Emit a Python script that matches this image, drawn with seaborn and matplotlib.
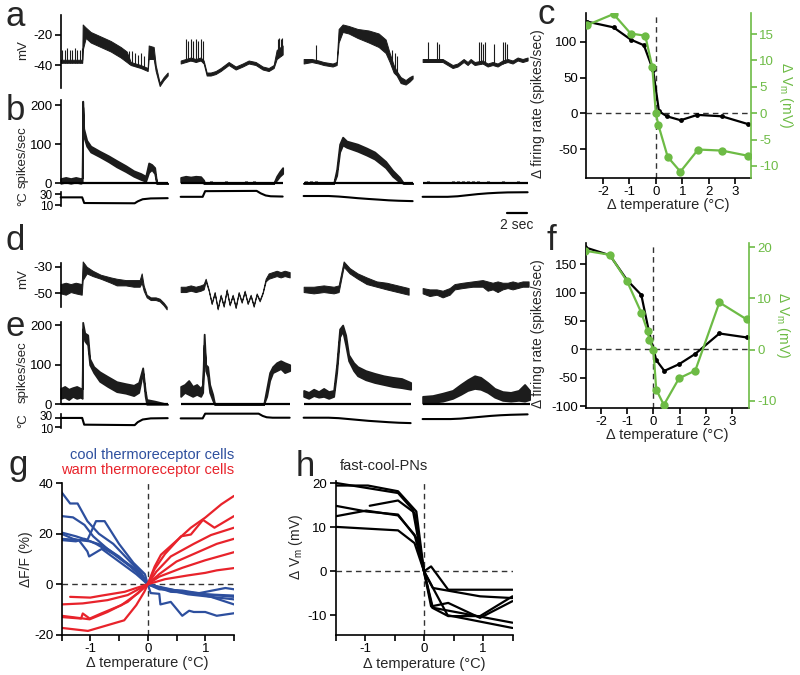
import numpy as np
import pandas as pd
import matplotlib
matplotlib.use("Agg")
import matplotlib.pyplot as plt
import matplotlib.transforms as mtrans
import seaborn as sns

# ---------------------------------------------------------------------------
# values
# ---------------------------------------------------------------------------
# trace rows (a, b, d, e): four stimulus segments, time (s) from segment start
SEG_START = [0.0, 12.0, 24.3, 36.2]

# a: membrane potential (mV), lower / upper edge of the drawn trace
A_T = [
    [0, 2.15, 2.2, 2.5, 3, 4, 5, 6, 6.6, 7, 8, 8.7, 8.8, 9.3, 9.5, 9.9, 10.3, 10.7],
    [0, 0.5, 1.0, 1.5, 2.0, 2.3, 2.6, 3.0, 3.5, 4.0, 4.8, 5.5, 6.2, 6.8, 7.5, 8.2, 8.8, 9.3, 9.6, 10.0, 10.2],
    [0, 0.8, 1.5, 2.0, 2.9, 3.3, 3.5, 3.9, 4.5, 5.4, 6.5, 7.5, 8.2, 8.6, 9.0, 9.3, 9.7, 10.2, 10.6, 10.9],
    [0, 1, 2, 2.5, 3, 3.5, 4.1, 4.5, 4.8, 5.2, 6.0, 6.5, 7.0, 7.5, 8.0, 8.5, 9.0, 9.5, 10.0, 10.5],
]
A_LO = [
    [-38.5, -38.5, -30, -22, -25, -28, -31, -35, -38, -40, -42, -44, -36, -36, -44, -54, -50, -47],
    [-39, -38, -37, -38, -37, -39, -47, -47, -46, -44, -40, -43, -41, -39, -40, -43, -44, -42, -36, -34, -33],
    [-39, -38, -39, -40, -41, -40, -25, -18, -19, -22, -25, -28, -32, -38, -45, -47, -52, -53, -51, -49],
    [-38, -38, -38, -40, -42, -41, -38, -40, -38, -40, -39, -41, -40, -41, -39, -38, -39, -37, -38, -37],
]
A_HI = [
    [-36.5, -36.5, -13, -15, -18, -21, -24, -28, -31, -38, -40, -42, -27, -28, -40, -52, -48, -45],
    [-37, -36, -35, -36, -35, -37, -45, -45, -44, -42, -38, -41, -39, -37, -38, -41, -42, -40, -30, -28, -27],
    [-36, -36, -37, -38, -39, -38, -16, -13, -14, -16, -17, -19, -23, -32, -40, -44, -48, -50, -48, -47],
    [-36, -36, -36, -38, -40, -39, -36, -38, -36, -38, -37, -39, -38, -39, -37, -36, -37, -35, -36, -35],
]
A_SPK_T = [
    [0.15, 0.4, 0.65, 0.9, 1.15, 1.4, 1.65, 1.9, 2.1, 6.8, 7.1, 7.4, 7.7, 8.0, 8.3],
    [0.5, 0.75, 1.0, 1.25, 1.5, 1.75, 2.0, 2.2, 9.7, 9.85, 10.0, 10.15],
    [1.25, 8.8, 9.1, 9.35],
    [0.5, 1.4, 1.6, 5.6, 5.8, 6.0, 6.2, 7.1, 8.0, 8.2, 8.4],
]
A_SPK_V = [
    [-30, -30, -29, -30, -30, -29, -30, -30, -29, -31, -31, -32, -33, -32, -34],
    [-23, -24, -23, -24, -23, -24, -23, -24, -23, -22, -23, -22],
    [-27, -30, -32, -34],
    [-25, -25, -26, -25, -25, -26, -25, -26, -25, -25, -26],
]

# b: firing rate (spikes/sec)
B_T = [
    [0, 0.5, 1.0, 1.5, 2.0, 2.15, 2.2, 2.3, 2.6, 3.0, 3.9, 4.8, 5.6, 6.5, 7.3, 8.0, 8.5, 8.8, 9.1, 9.4, 9.6, 10.7],
    [0, 0.5, 1.0, 1.5, 2.0, 2.3, 2.4, 9.3, 9.6, 9.9, 10.2],
    [0, 3.0, 3.3, 3.6, 3.9, 4.3, 5.4, 6.3, 7.1, 8.2, 8.9, 9.6, 10.0, 10.9],
    [0, 10.5],
]
B_LO = [
    [0, 3, 0, 3, 0, 2, 195, 120, 95, 80, 68, 55, 42, 30, 18, 10, 5, 28, 35, 25, 0, 0],
    [3, 6, 4, 7, 4, 0, 0, 0, 8, 18, 25],
    [0, 0, 20, 80, 98, 92, 82, 72, 62, 40, 18, 3, 0, 0],
    [0, 0],
]
B_HI = [
    [12, 15, 12, 15, 12, 14, 210, 140, 110, 95, 82, 70, 58, 45, 32, 25, 18, 52, 48, 40, 0, 0],
    [15, 18, 16, 18, 17, 8, 0, 0, 18, 30, 40],
    [0, 0, 35, 100, 118, 108, 100, 90, 80, 56, 33, 15, 0, 0],
    [0, 0],
]
B_BLIP_T = [[], [3.0, 4.5, 6.5, 7.3], [0.2, 0.7, 1.25], [0.5, 3.0, 3.5, 4.0, 4.5, 5.0, 5.5, 6.5, 8.0, 9.5]]

# a/b: bath temperature (deg C)
TAB_T = [
    [0, 2.15, 2.35, 7.4, 7.7, 8.2, 9.0, 10.7],
    [0, 2.2, 2.45, 7.6, 8.0, 8.5, 9.0, 10.2],
    [0, 2.5, 3.5, 4.5, 5.4, 6.5, 7.5, 8.5, 9.5, 10.9],
    [0, 2.5, 3.5, 4.5, 5.5, 6.5, 7.5, 8.5, 10.5],
]
TAB_C = [
    [24.5, 24.5, 14, 13.5, 17, 21, 22.5, 23],
    [25.5, 25.5, 36, 36.5, 32, 28, 26.5, 26],
    [27, 27, 26, 24.5, 23, 21.5, 20.3, 19, 18.2, 17.5],
    [25.5, 25.5, 26.5, 28.5, 30.5, 32, 33, 33.7, 34],
]

# d: membrane potential (mV)
D_T = [
    [0, 0.5, 1.0, 1.5, 2.1, 2.2, 2.6, 3.2, 4.0, 5.0, 5.6, 6.5, 7.3, 7.9, 8.1, 8.3, 8.6, 9.0, 9.5, 9.9, 10.3, 10.6],
    [0, 0.5, 1, 1.5, 2, 2.3, 2.5, 2.8, 3.1, 3.4, 3.7, 4.0, 4.3, 4.6, 4.9, 5.2, 5.5, 5.8, 6.1, 6.4, 6.7,
     7.0, 7.3, 7.6, 7.9, 8.2, 8.5, 8.8, 9.2, 9.6, 10.0, 10.4, 10.9],
    [0, 1, 2, 3, 3.5, 4.0, 4.6, 5.4, 6.3, 7.3, 8.3, 9.4, 10.5],
    [0, 0.7, 1.4, 2.0, 2.7, 3.2, 4.0, 5.0, 6.0, 6.5, 7.0, 7.5, 8.0, 8.5, 9.0, 9.5, 10.0, 10.6],
]
D_LO = [
    [-50, -51, -49, -50, -51, -40, -35, -37, -39, -42, -44, -44, -45, -45, -42, -48, -53, -55, -55, -56, -59, -62],
    [-49, -49, -48, -49, -48, -47, -41, -48, -58, -50, -62, -52, -60, -48, -59, -52, -61, -50, -57, -49, -58,
     -52, -60, -51, -56, -50, -41, -39, -38, -37, -38, -37, -38],
    [-49, -50, -49, -50, -49, -30, -35, -39, -43, -45, -47, -49, -51],
    [-50, -52, -51, -53, -51, -47, -46, -45, -45, -48, -47, -49, -47, -46, -47, -46, -45, -45],
]
D_HI = [
    [-43, -42, -43, -42, -43, -26, -30, -33, -36, -38, -39, -40, -40, -40, -35, -44, -51, -53, -53, -54, -57, -60],
    [-45, -45, -44, -45, -44, -43, -39, -47, -57, -49, -61, -51, -59, -47, -58, -51, -60, -49, -56, -48, -57,
     -51, -59, -50, -55, -49, -39, -35, -34, -33, -34, -33, -34],
    [-45, -45, -44, -45, -44, -26, -31, -35, -38, -41, -42, -44, -46],
    [-46, -47, -47, -48, -46, -43, -42, -41, -40, -41, -42, -41, -42, -42, -41, -42, -41, -41],
]

# e: firing rate (spikes/sec)
E_T = [
    [0, 0.4, 0.8, 1.2, 1.6, 2.0, 2.15, 2.2, 2.4, 2.7, 2.9, 3.3, 3.9, 4.7, 5.6, 6.5, 7.3, 7.8, 8.2, 8.45, 8.6, 9.4, 10.7],
    [0, 0.4, 0.8, 1.2, 1.6, 2.0, 2.2, 2.35, 2.5, 2.7, 2.9, 3.2, 3.4, 8.3, 8.6, 8.9, 9.2, 9.6, 10.0, 10.4, 10.9],
    [0, 0.5, 1.0, 1.5, 2.0, 2.5, 3.0, 3.3, 3.6, 3.9, 4.2, 4.5, 5.0, 5.4, 6.2, 7.1, 8.0, 8.9, 9.8, 10.7],
    [0, 1, 2, 3, 3.8, 4.5, 5.2, 5.8, 6.5, 7.2, 8.0, 8.8, 9.6, 10.2, 10.7],
]
E_LO = [
    [15, 18, 12, 20, 15, 18, 15, 190, 160, 150, 100, 80, 58, 45, 32, 28, 22, 30, 80, 20, 0, 0, 0],
    [20, 30, 25, 20, 25, 20, 30, 150, 85, 70, 30, 10, 0, 0, 20, 60, 80, 85, 90, 80, 85],
    [20, 15, 22, 18, 20, 15, 20, 80, 170, 185, 150, 110, 85, 72, 62, 55, 50, 45, 42, 38],
    [3, 5, 8, 15, 25, 35, 40, 38, 30, 18, 10, 8, 10, 8, 12],
]
E_HI = [
    [40, 45, 38, 42, 45, 40, 40, 207, 180, 175, 115, 95, 82, 70, 57, 52, 48, 55, 92, 35, 12, 8, 0],
    [45, 50, 60, 45, 50, 40, 50, 177, 100, 95, 50, 25, 0, 0, 40, 80, 95, 105, 110, 105, 100],
    [35, 30, 38, 32, 40, 32, 35, 100, 190, 200, 175, 125, 105, 95, 85, 78, 72, 68, 65, 55],
    [20, 22, 28, 35, 50, 62, 72, 68, 55, 40, 32, 30, 35, 50, 35],
]

# d/e: bath temperature (deg C)
TDE_T = [
    [0, 2.15, 2.35, 7.4, 7.7, 8.2, 9.0, 10.7],
    [0, 2.2, 2.45, 7.8, 8.2, 8.6, 9.2, 10.9],
    [0, 2.5, 3.5, 4.5, 5.5, 6.5, 7.5, 8.5, 9.5, 10.7],
    [0, 2.8, 3.8, 4.8, 5.8, 6.8, 7.8, 8.8, 10.5],
]
TDE_C = [
    [29.5, 29.5, 14.5, 13.5, 20, 26, 28.5, 29],
    [28.5, 28.5, 39, 39, 34, 31, 30, 30],
    [30, 30, 29, 27, 25, 23, 21.5, 20, 18.8, 18],
    [27, 27, 28, 30, 32, 34, 35.5, 36.5, 37.5],
]

# c: tuning curves
C_DT_FR = [-2.6, -1.6, -0.95, -0.45, -0.1, 0.12, 0.42, 0.94, 1.57, 2.5, 3.5]
C_FR = [128, 120, 103, 95, 60, 3, -4, -9.5, -2, -4, -15]
C_DT_VM = [-2.6, -1.6, -0.95, -0.4, -0.13, 0, 0.1, 0.45, 0.93, 1.6, 2.5, 3.5]
C_VM = [16.7, 18.8, 15.1, 14.7, 8.7, 0, -2.3, -8.3, -11.1, -6.9, -7.1, -8.1]

# f: tuning curves
F_DT_FR = [-2.61, -1.66, -1.0, -0.46, -0.18, 0.11, 0.42, 0.99, 1.6, 2.52, 3.56]
F_FR = [180, 166, 122, 96, 34, -19, -38, -26, -8, 28, 21]
F_DT_VM = [-2.61, -1.66, -1.0, -0.46, -0.22, -0.15, 0, 0.11, 0.4, 0.98, 1.6, 2.52, 3.56]
F_VM = [19.3, 18.5, 13.3, 7.2, 3.6, 1.8, 0, -7.8, -10.8, -5.6, -4.1, 9.2, 5.9]

# g: calcium responses of thermoreceptor cells (dF/F %)
G_COOL_X = [
    [-1.5, -1.35, -1.22, -1.05, -0.85, -0.6, -0.35, -0.1, 0, 0.2, 0.5, 0.8, 1.1, 1.5],
    [-1.5, -1.3, -1.1, -0.95, -0.7, -0.4, -0.15, 0, 0.25, 0.6, 1.0, 1.5],
    [-1.5, -1.25, -1.05, -0.9, -0.75, -0.5, -0.25, -0.05, 0, 0.3, 0.7, 1.1, 1.5],
    [-1.5, -1.2, -1.0, -0.8, -0.5, -0.2, 0, 0.4, 0.9, 1.35, 1.5],
    [-1.5, -1.3, -1.2, -1.05, -1.02, -0.8, -0.5, -0.2, 0, 0.2, 0.6, 1.0, 1.5],
    [-1.5, -1.25, -1.1, -0.9, -0.6, -0.3, -0.1, 0, 0.05, 0.2, 0.22, 0.4, 0.6, 0.72, 0.8, 1.0, 1.2, 1.5],
]
G_COOL_Y = [
    [36.5, 32, 32, 25, 20, 16, 10, 4, 0, -1, -2.5, -3.5, -5, -8],
    [27, 26.5, 23.5, 19, 14, 9, 5, 0, -1.5, -3, -4, -5],
    [20.5, 19, 17.5, 25, 25, 16, 8.5, 4, 0, -2, -4, -5, -6],
    [18, 17.5, 17, 15.5, 11, 5, 0, -3, -3.5, -1.5, -2],
    [20, 18, 17.5, 13, 11, 14, 9, 4, 0, -2, -2.5, -4, -4.5],
    [17.5, 17, 18, 16, 12, 7, 3, 0, -3.5, -3.8, -8, -7, -12.5, -10.5, -11, -11, -12.5, -11.5],
]
G_WARM_X = [
    [-1.35, -1.0, -0.8, -0.4, 0, 0.12, 0.23, 0.46, 0.75, 1.0, 1.28, 1.5],
    [-1.5, -1.13, -0.7, -0.35, 0, 0.12, 0.3, 0.58, 0.75, 0.96, 1.16, 1.5],
    [-1.5, -1.16, -1.13, -1.01, -0.81, -0.46, -0.17, 0, 0.15, 0.4, 0.8, 1.1, 1.5],
    [-1.5, -1.01, -0.7, -0.35, 0, 0.2, 0.5, 0.9, 1.2, 1.5],
    [-1.5, -1.04, -0.41, -0.2, -0.06, 0, 0.2, 0.6, 1.0, 1.5],
    [0, 0.3, 0.7, 1.0, 1.2, 1.5],
]
G_WARM_Y = [
    [-5, -5.3, -4.5, -3, 0, 7, 11.7, 16.4, 22.4, 26.4, 31.7, 35],
    [-8, -7.6, -6.3, -4.3, 0, 6, 12, 19, 19.7, 25.5, 22.4, 27],
    [-13, -13.6, -11.6, -13.6, -11.6, -8.3, -3.6, 0, 5, 11, 16, 19.5, 22.4],
    [-12.5, -13.9, -11, -7, 0, 4, 9, 13, 16, 18],
    [-17.3, -18.5, -14.3, -8.3, -3, 0, 3, 6.5, 9.5, 12.7],
    [0, 2, 3.5, 4.5, 5.5, 6.4],
]

# h: fast-cool projection neurons (delta Vm, mV)
H_X = [
    [-1.5, -0.95, -0.44, -0.13, 0, 0.12, 0.41, 1.5],
    [-1.5, -0.44, -0.19, 0, 0.15, 0.95, 1.5],
    [-0.92, -0.44, -0.16, 0, 0.14, 0.41, 0.95, 1.5],
    [-1.5, -0.98, -0.44, -0.13, 0, 0.12, 0.41, 0.95, 1.5],
    [-1.5, -0.98, -0.44, -0.16, 0, 0.15, 1.5],
    [-1.5, -0.44, -0.16, 0, 0.4, 1.5],
]
H_Y = [
    [19.5, 19.5, 18.2, 13.6, 0, 1.1, -4.2, -4.2],
    [20.1, 17.8, 14, 0, -3.8, -5.7, -6.1],
    [14.9, 16.1, 13.3, 0, -8.3, -10.2, -10.2, -5.7],
    [14.9, 13.6, 12.9, 7.6, 0, -8, -7.2, -10.6, -6.8],
    [12.5, 13.8, 12.7, 8.3, 0, -8.3, -11.7],
    [10.1, 9.3, 6.4, 0, -10, -12.9],
]

GREEN = "#6dbb45"
BLUE = "#2d4f9e"
RED = "#e8232b"
TRACE = "#1c1c1c"
W, H = 800, 675

# ---------------------------------------------------------------------------
sns.set_style("ticks")
plt.rcParams["font.family"] = ["Liberation Sans", "DejaVu Sans"]
plt.rcParams["mathtext.fontset"] = "custom"
plt.rcParams["mathtext.rm"] = "Liberation Sans"
plt.rcParams["mathtext.it"] = "Liberation Sans:italic"
plt.rcParams["axes.unicode_minus"] = False
plt.rcParams["axes.linewidth"] = 1.2
plt.rcParams["axes.edgecolor"] = "black"
for k in ["xtick", "ytick"]:
    plt.rcParams[f"{k}.major.width"] = 1.2
    plt.rcParams[f"{k}.minor.width"] = 1.2
    plt.rcParams[f"{k}.major.size"] = 4
    plt.rcParams[f"{k}.minor.size"] = 4
    plt.rcParams[f"{k}.labelsize"] = 9.5
    plt.rcParams[f"{k}.major.pad"] = 2
    plt.rcParams[f"{k}.color"] = "black"

fig = plt.figure(figsize=(8, 6.75), dpi=100)


def add_ax(x0, y0, x1, y1):
    return fig.add_axes([x0 / W, 1 - y1 / H, (x1 - x0) / W, (y1 - y0) / H])


def fig_text(x, y, s, **kw):
    kw.setdefault("ha", "center")
    kw.setdefault("va", "center")
    fig.text(x / W, 1 - y / H, s, **kw)


def trace_axes(y0, y1, ylim, yticks):
    ax = add_ax(60.7, y0, 528.6, y1)
    ax.set_xlim(0, 46.8)
    ax.set_ylim(*ylim)
    ax.set_yticks(yticks)
    ax.set_xticks([])
    sns.despine(ax=ax, bottom=True)
    ax.patch.set_alpha(0)
    return ax


def draw_band(ax, ts, los, his, lw):
    for x0, t, lo, hi in zip(SEG_START, ts, los, his):
        tt = np.asarray(t, float) + x0
        ax.fill_between(tt, lo, hi, color=TRACE, lw=lw, clip_on=False)


def draw_spikes(ax, ts, los, spk_t, spk_v):
    for x0, t, lo, st, sv in zip(SEG_START, ts, los, spk_t, spk_v):
        if not st:
            continue
        base = np.interp(st, t, lo)
        ax.vlines(np.asarray(st) + x0, base, sv, color=TRACE, lw=0.8, clip_on=False)


def rate_baseline(ax, ts):
    for x0, t in zip(SEG_START, ts):
        ax.hlines(0, x0, x0 + t[-1], color="black", lw=1.6, clip_on=False)


def temp_trace(ax, ts, temps):
    df = pd.DataFrame({
        "t": np.concatenate([np.asarray(t, float) + x0 for x0, t in zip(SEG_START, ts)]),
        "temp": np.concatenate(temps),
        "seg": np.repeat(np.arange(len(ts)), [len(t) for t in ts]),
    })
    sns.lineplot(data=df, x="t", y="temp", units="seg", estimator=None, sort=False,
                 color="black", lw=1.5, ax=ax, legend=False, clip_on=False)
    ax.set_xlabel("")
    ax.set_ylabel("")
    ax.tick_params(axis="y", labelsize=8.5, pad=1.5)


def spread_tick_labels(ax, px):
    # the two temperature ticks sit only ~9 px apart: nudge the labels apart
    ticks = ax.yaxis.get_major_ticks()
    for tick, dy in zip(ticks, [-px, px]):
        lab = tick.label1
        lab.set_transform(lab.get_transform()
                          + mtrans.ScaledTranslation(0, dy / 100, fig.dpi_scale_trans))


def multi_lines(ax, xs, ys, color, lw=1.6):
    df = pd.DataFrame({
        "x": np.concatenate(xs),
        "y": np.concatenate(ys),
        "cell": np.repeat(np.arange(len(xs)), [len(x) for x in xs]),
    })
    sns.lineplot(data=df, x="x", y="y", units="cell", estimator=None, sort=False,
                 color=color, lw=lw, ax=ax, legend=False)


# ---------------- a / b ----------------
ax_a = trace_axes(15, 88.3, (-55.5, -6.7), [-40, -20])
draw_band(ax_a, A_T, A_LO, A_HI, 0.7)
draw_spikes(ax_a, A_T, A_LO, A_SPK_T, A_SPK_V)

ax_b = trace_axes(100, 183.3, (0, 213), [0, 100, 200])
rate_baseline(ax_b, B_T)
draw_band(ax_b, B_T, B_LO, B_HI, 1.3)
for x0, bt in zip(SEG_START, B_BLIP_T):
    if bt:
        ax_b.vlines(np.asarray(bt) + x0, 0, 7, color="black", lw=2.2, clip_on=False)

ax_tab = trace_axes(191.7, 205.7, (9, 35), [10, 30])
temp_trace(ax_tab, TAB_T, TAB_C)
blend = mtrans.blended_transform_factory(ax_tab.transData, ax_tab.transAxes)
ax_tab.plot([44.6, 46.6], [-0.55, -0.55], color="black", lw=1.6, transform=blend, clip_on=False)
ax_tab.text(45.6, -1.35, "2 sec", transform=blend, ha="center", va="center", fontsize=10)

# ---------------- d / e ----------------
ax_d = trace_axes(263.3, 306.7, (-60, -27.4), [-50, -30])
draw_band(ax_d, D_T, D_LO, D_HI, 0.7)

ax_e = trace_axes(322.3, 404.3, (0, 207), [0, 100, 200])
rate_baseline(ax_e, E_T)
draw_band(ax_e, E_T, E_LO, E_HI, 1.3)

ax_tde = trace_axes(414.3, 428.3, (6.4, 37.6), [10, 30])
temp_trace(ax_tde, TDE_T, TDE_C)
spread_tick_labels(ax_tde, 1.8)

for y, s in [(50, "mV"), (157, "spikes/sec"), (199, "°C"),
             (279, "mV"), (372, "spikes/sec"), (421, "°C")]:
    fig_text(23, y, s, rotation=90, fontsize=9.5)


# ---------------- c / f ----------------
def tuning_panel(box, xlim, ylim, ylim2, yticks, yticks2, x_fr, fr, x_vm, vm):
    ax = add_ax(*box)
    ax.axhline(0, color="#333333", lw=1, ls=(0, (4, 3)))
    ax.axvline(0, color="#333333", lw=1, ls=(0, (4, 3)))
    sns.lineplot(x=x_fr, y=fr, sort=False, color="black", lw=1.6, marker="o",
                 markersize=3.5, markeredgewidth=0, ax=ax)
    ax.set_xlim(*xlim)
    ax.set_ylim(*ylim)
    ax.set_xticks([-2, -1, 0, 1, 2, 3])
    ax.set_yticks(yticks)
    sns.despine(ax=ax)
    ax.set_xlabel("Δ temperature (°C)", fontsize=10.5, labelpad=0)
    ax.set_ylabel("Δ firing rate (spikes/sec)", fontsize=10)
    ax.yaxis.set_label_coords(-0.25, 0.45)

    ax2 = ax.twinx()
    sns.lineplot(x=x_vm, y=vm, sort=False, color=GREEN, lw=1.6, marker="o",
                 markersize=6, markeredgewidth=0, ax=ax2)
    ax2.set_ylim(*ylim2)
    ax2.set_yticks(yticks2)
    for side in ["top", "left", "bottom"]:
        ax2.spines[side].set_visible(False)
    ax2.spines["right"].set_color(GREEN)
    ax2.tick_params(axis="y", colors=GREEN)
    ax2.set_ylabel("Δ V$_\\mathrm{m}$ (mV)", color=GREEN, fontsize=10, rotation=270)
    ax2.yaxis.set_label_coords(1.265, 0.5)
    return ax, ax2


tuning_panel((586, 13, 751, 178), (-2.64, 3.6), (-90, 140), (-12.3, 19),
             [-50, 0, 50, 100], [-10, -5, 0, 5, 10, 15], C_DT_FR, C_FR, C_DT_VM, C_VM)
tuning_panel((586, 243, 749, 408), (-2.57, 3.65), (-103.5, 187.6), (-11.4, 20.8),
             [-100, -50, 0, 50, 100, 150], [-10, 0, 10, 20], F_DT_FR, F_FR, F_DT_VM, F_VM)


# ---------------- g / h ----------------
def small_panel(box, ylim, yticks):
    ax = add_ax(*box)
    ax.axhline(0, color="#333333", lw=1, ls=(0, (4, 3)))
    ax.axvline(0, color="#333333", lw=1, ls=(0, (4, 3)))
    ax.set_xlim(-1.5, 1.5)
    ax.set_ylim(*ylim)
    ax.set_xticks([-1, 0, 1])
    ax.set_xticks([-1.5, -0.5, 0.5, 1.5], minor=True)
    ax.set_yticks(yticks)
    sns.despine(ax=ax)
    return ax


def label_small(ax, ylabel, label_x, label_y=0.5):
    ax.set_xlabel("Δ temperature (°C)", fontsize=10.5, labelpad=1)
    ax.set_ylabel(ylabel, fontsize=10)
    ax.yaxis.set_label_coords(label_x, label_y)


ax_g = small_panel((61.5, 483.3, 234, 634.7), (-20, 40), [-20, 0, 20, 40])
multi_lines(ax_g, G_COOL_X, G_COOL_Y, BLUE)
multi_lines(ax_g, G_WARM_X, G_WARM_Y, RED)
label_small(ax_g, "ΔF/F (%)", -0.165)

ax_h = small_panel((335.5, 480.7, 512.5, 635), (-14.5, 20.6), [-10, 0, 10, 20])
multi_lines(ax_h, H_X, H_Y, "black")
label_small(ax_h, "Δ V$_\\mathrm{m}$ (mV)", -0.17, 0.57)

fig_text(152, 455, "cool thermoreceptor cells", color=BLUE, fontsize=10.5)
fig_text(148, 470, "warm thermoreceptor cells", color=RED, fontsize=10.5)
fig_text(340, 466, "fast-cool-PNs", ha="left", fontsize=10.5)

# panel letters
for x, y, s in [(15, 16, "a"), (15, 110, "b"), (546, 15, "c"), (15, 240, "d"),
                (15, 326, "e"), (551, 240, "f"), (18, 466, "g"), (305, 466, "h")]:
    fig_text(x, y, s, fontsize=25)

fig.savefig("out.png", dpi=100)
